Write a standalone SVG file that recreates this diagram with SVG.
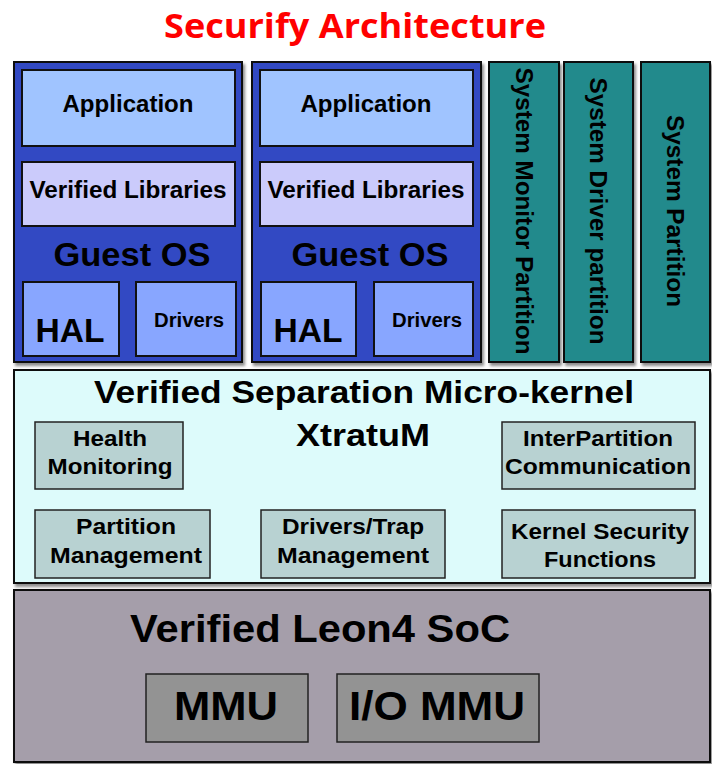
<svg xmlns="http://www.w3.org/2000/svg" width="712" height="764" viewBox="0 0 712 764">
<defs>
<filter id="sh" x="-10%" y="-10%" width="130%" height="130%">
<feDropShadow dx="2" dy="3" stdDeviation="1.5" flood-color="#000" flood-opacity="0.45"/>
</filter>
<style>
.t{font-family:"Liberation Sans",Arial,sans-serif;font-weight:bold;fill:#000;text-anchor:middle}
.b{stroke:#111;stroke-width:2}
.os{fill:#3349C3}
.app{fill:#A0C4FF}
.lib{fill:#CBCBFB}
.hal{fill:#88A6FF}
.sys{fill:#238A8C}
.mk{fill:#DDFBFB}
.mki{fill:#B8D2D2;stroke:#222;stroke-width:1.5}
.soc{fill:#A59EAA}
.mmu{fill:#939393;stroke:#222;stroke-width:1.5}
</style>
</defs>
<rect width="712" height="764" fill="#fff"/>
<text x="355" y="38" font-family="'Open Sans','Liberation Sans',sans-serif" font-weight="bold" font-size="34" fill="#F00" text-anchor="middle" textLength="382" lengthAdjust="spacingAndGlyphs">Securify Architecture</text>

<g id="guest1">
<rect class="os b" x="14" y="62" width="228" height="300" filter="url(#sh)"/>
<rect class="app b" x="22" y="70" width="213" height="76"/>
<text class="t" x="128" y="112" font-size="23" textLength="131" lengthAdjust="spacingAndGlyphs">Application</text>
<rect class="lib b" x="22" y="162" width="213" height="64"/>
<text class="t" x="128" y="198" font-size="23" textLength="197" lengthAdjust="spacingAndGlyphs">Verified Libraries</text>
<text class="t" x="132" y="266" font-size="33" textLength="157" lengthAdjust="spacingAndGlyphs">Guest OS</text>
<rect class="hal b" x="23" y="282" width="96" height="74"/>
<text class="t" x="70" y="342" font-size="34" textLength="69" lengthAdjust="spacingAndGlyphs">HAL</text>
<rect class="hal b" x="136" y="282" width="100" height="74"/>
<text class="t" x="189" y="327" font-size="20" textLength="70" lengthAdjust="spacingAndGlyphs">Drivers</text>
</g>

<g id="guest2">
<rect class="os b" x="252" y="62" width="229" height="300" filter="url(#sh)"/>
<rect class="app b" x="260" y="70" width="213" height="76"/>
<text class="t" x="366" y="112" font-size="23" textLength="131" lengthAdjust="spacingAndGlyphs">Application</text>
<rect class="lib b" x="260" y="162" width="213" height="64"/>
<text class="t" x="366" y="198" font-size="23" textLength="197" lengthAdjust="spacingAndGlyphs">Verified Libraries</text>
<text class="t" x="370" y="266" font-size="33" textLength="157" lengthAdjust="spacingAndGlyphs">Guest OS</text>
<rect class="hal b" x="261" y="282" width="95" height="74"/>
<text class="t" x="308" y="342" font-size="34" textLength="69" lengthAdjust="spacingAndGlyphs">HAL</text>
<rect class="hal b" x="374" y="282" width="99" height="74"/>
<text class="t" x="427" y="327" font-size="20" textLength="70" lengthAdjust="spacingAndGlyphs">Drivers</text>
</g>

<g id="sysmon">
<rect class="sys b" x="489" y="62" width="70" height="300" filter="url(#sh)"/>
<text class="t" font-size="23" transform="translate(516,211) rotate(90)" textLength="287" lengthAdjust="spacingAndGlyphs">System Monitor Partition</text>
</g>
<g id="sysdrv">
<rect class="sys b" x="564" y="62" width="69" height="300" filter="url(#sh)"/>
<text class="t" font-size="23" transform="translate(590,211) rotate(90)" textLength="267" lengthAdjust="spacingAndGlyphs">System Driver partition</text>
</g>
<g id="syspart">
<rect class="sys b" x="641" y="62" width="69" height="300" filter="url(#sh)"/>
<text class="t" font-size="23" transform="translate(667,211) rotate(90)" textLength="192" lengthAdjust="spacingAndGlyphs">System Partition</text>
</g>

<g id="microkernel">
<rect class="mk b" x="14" y="370" width="696" height="213" filter="url(#sh)"/>
<text class="t" x="364" y="403" font-size="32" textLength="540" lengthAdjust="spacingAndGlyphs">Verified Separation Micro-kernel</text>
<text class="t" x="363" y="446" font-size="32" textLength="134" lengthAdjust="spacingAndGlyphs">XtratuM</text>
</g>
<g id="health">
<rect class="mki" x="35" y="422" width="148" height="67"/>
<text class="t" x="110" y="446" font-size="22" textLength="74" lengthAdjust="spacingAndGlyphs">Health</text>
<text class="t" x="110" y="474" font-size="22" textLength="125" lengthAdjust="spacingAndGlyphs">Monitoring</text>
</g>
<g id="interpartition">
<rect class="mki" x="502" y="422" width="193" height="67"/>
<text class="t" x="598" y="446" font-size="22" textLength="150" lengthAdjust="spacingAndGlyphs">InterPartition</text>
<text class="t" x="598" y="474" font-size="22" textLength="186" lengthAdjust="spacingAndGlyphs">Communication</text>
</g>
<g id="partmgmt">
<rect class="mki" x="35" y="510" width="175" height="68"/>
<text class="t" x="126" y="534" font-size="22" textLength="100" lengthAdjust="spacingAndGlyphs">Partition</text>
<text class="t" x="126" y="563" font-size="22" textLength="152" lengthAdjust="spacingAndGlyphs">Management</text>
</g>
<g id="drvtrap">
<rect class="mki" x="261" y="510" width="184" height="68"/>
<text class="t" x="353" y="534" font-size="22" textLength="142" lengthAdjust="spacingAndGlyphs">Drivers/Trap</text>
<text class="t" x="353" y="563" font-size="22" textLength="152" lengthAdjust="spacingAndGlyphs">Management</text>
</g>
<g id="kernelsec">
<rect class="mki" x="502" y="510" width="193" height="68"/>
<text class="t" x="600" y="539" font-size="22" textLength="178" lengthAdjust="spacingAndGlyphs">Kernel Security</text>
<text class="t" x="600" y="567" font-size="22" textLength="112" lengthAdjust="spacingAndGlyphs">Functions</text>
</g>

<g id="soc">
<rect class="soc b" x="14" y="590" width="696" height="172" filter="url(#sh)"/>
<text class="t" x="320" y="642" font-size="38" textLength="380" lengthAdjust="spacingAndGlyphs">Verified Leon4 SoC</text>
</g>
<g id="mmu">
<rect class="mmu" x="146" y="674" width="162" height="68"/>
<text class="t" x="226" y="720" font-size="40" textLength="104" lengthAdjust="spacingAndGlyphs">MMU</text>
</g>
<g id="iommu">
<rect class="mmu" x="337" y="674" width="202" height="68"/>
<text class="t" x="437" y="720" font-size="40" textLength="176" lengthAdjust="spacingAndGlyphs">I/O MMU</text>
</g>
<g id="connectors"></g>
</svg>
